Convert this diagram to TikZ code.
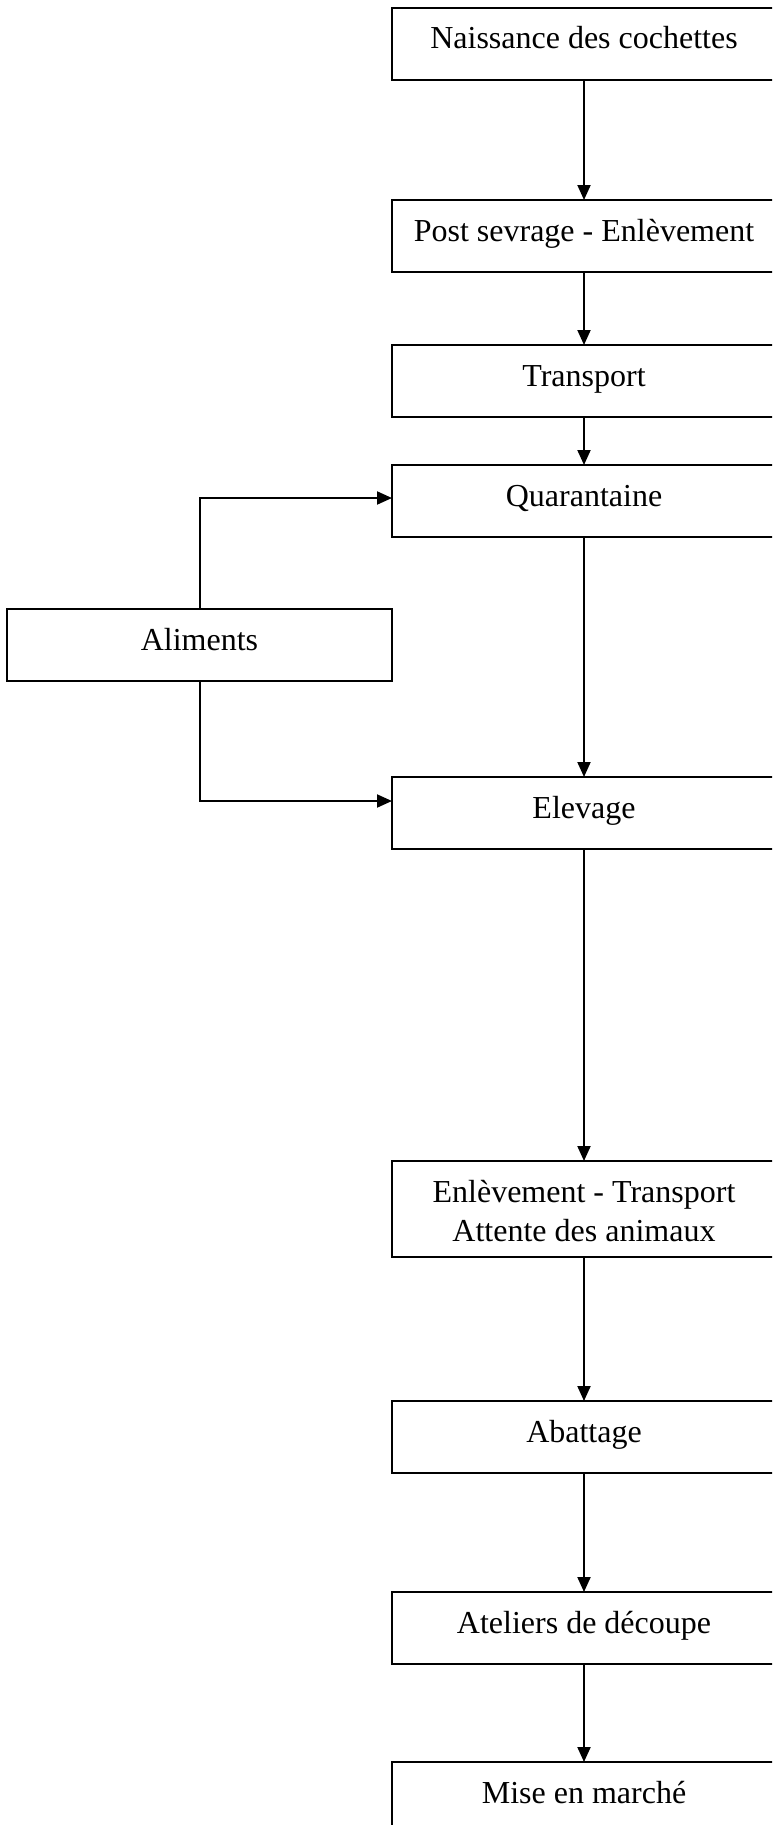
\documentclass[tikz,border=0pt]{standalone}
\usepackage{fontspec}
\setmainfont{Liberation Serif}
\usetikzlibrary{arrows.meta,calc}
\begin{document}
\begin{tikzpicture}[x=0.5pt,y=-0.5pt,
  box/.style={draw,line width=1pt,rectangle,inner sep=0pt,outer sep=0pt,
    minimum width=192pt,text height=20.5pt,text depth=15.5pt,
    font=\fontsize{16pt}{19.5pt}\selectfont},
  tallbox/.style={box,text depth=27.5pt},
  flow/.style={line width=1pt,-{Triangle[length=7.5pt,width=6.5pt]}}]
\useasboundingbox (0,0) rectangle (772,1825);
\clip (0,0) rectangle (772,1825);
\fill[white] (0,0) rectangle (772,1825);

\node[box,anchor=north] (n1) at (584,8) {Naissance des cochettes};
\node[box,anchor=north] (n2) at (584,200) {Post sevrage - Enlèvement};
\node[box,anchor=north] (n3) at (584,345) {Transport};
\node[box,anchor=north] (n4) at (584,465) {Quarantaine};
\node[box,anchor=north] (n5) at (584,777) {Elevage};
\node[tallbox,anchor=north] (n6) at (584,1161) {\begin{tabular}[t]{@{}c@{}}Enlèvement - Transport\\Attente des animaux\end{tabular}};
\node[box,anchor=north] (n7) at (584,1401) {Abattage};
\node[box,anchor=north] (n8) at (584,1592) {Ateliers de découpe};
\node[box,anchor=north] (n9) at (584,1762) {Mise en marché};
\node[box,anchor=north,minimum width=192.5pt] (al) at (199.5,609) {Aliments};

\draw[flow] (n1.south) -- (n2.north);
\draw[flow] (n2.south) -- (n3.north);
\draw[flow] (n3.south) -- (n4.north);
\draw[flow] (n4.south) -- (n5.north);
\draw[flow] (n5.south) -- (n6.north);
\draw[flow] (n6.south) -- (n7.north);
\draw[flow] (n7.south) -- (n8.north);
\draw[flow] (n8.south) -- (n9.north);
\draw[flow] (al.north) |- ($(n4.north west)+(0,33)$);
\draw[flow] (al.south) |- ($(n5.north west)+(0,24)$);
\end{tikzpicture}
\end{document}
